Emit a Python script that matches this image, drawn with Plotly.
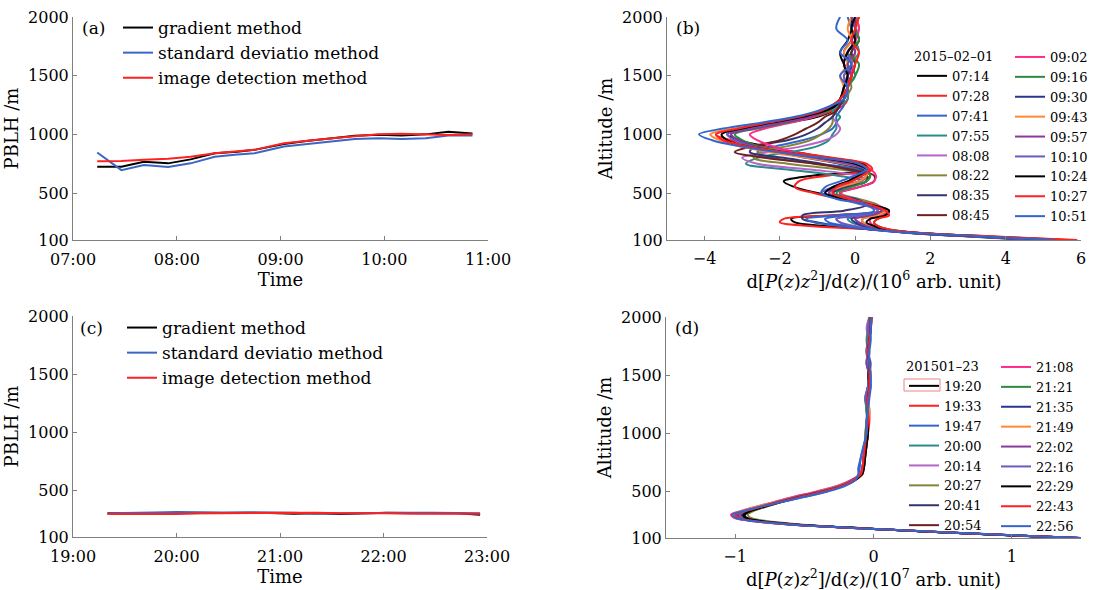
import plotly.graph_objects as go

FONT = "DejaVu Serif"

# ---------------- Panel (a) / (c): PBLH time series ----------------
TIME_A = ["07:14", "07:28", "07:41", "07:55", "08:08", "08:22", "08:35", "08:45", "09:02",
          "09:16", "09:30", "09:43", "09:57", "10:10", "10:24", "10:37", "10:51"]
GRAD_A = [724, 724, 767, 753, 787, 839, 851, 868, 917, 945, 966, 989, 997, 991, 1000, 1022, 1008]
STD_A = [845, 695, 738, 721, 753, 810, 828, 839, 897, 920, 937, 960, 966, 960, 966, 990, 990]
IMG_A = [770, 773, 784, 793, 810, 839, 856, 868, 925, 948, 966, 983, 1000, 1006, 997, 994, 1002]

TIME_C = ["19:20", "19:33", "19:47", "20:00", "20:14", "20:27", "20:41", "20:54", "21:08",
          "21:21", "21:35", "21:49", "22:02", "22:16", "22:29", "22:43", "22:56"]
GRAD_C = [305, 305, 308, 310, 306, 307, 308, 306, 299, 304, 297, 306, 309, 306, 305, 304, 292]
STD_C = [305, 310, 311, 314, 310, 311, 313, 312, 309, 303, 305, 309, 313, 309, 308, 307, 305]
IMG_C = [297, 296, 296, 297, 304, 305, 307, 307, 307, 308, 304, 306, 305, 299, 300, 300, 300]

METHODS = ["gradient method", "standard deviatio method", "image detection method"]
METHOD_COLORS = ["#000000", "#3a66c4", "#ff2020"]

# ---------------- Panel (b): profiles 2015-02-01 ----------------
ALT_B = [100, 130, 160, 190, 220, 250, 280, 310, 350, 400, 450, 500, 550, 600, 650, 700, 750,
         800, 850, 900, 950, 1000, 1050, 1100, 1150, 1200, 1250, 1300, 1400, 1500, 1600, 1700,
         1800, 1900, 2000]
TIMES_B = ["07:14", "07:28", "07:41", "07:55", "08:08", "08:22", "08:35", "08:45",
           "09:02", "09:16", "09:30", "09:43", "09:57", "10:10", "10:24", "10:27", "10:51"]
PROF_B = [
    [5.3, 3.4, 1.6, 0.5, -0.8, -1.6, -1.7, -0.5, 0.8, 0.5, -0.3, -1.0, -1.6, -1.9, -1.1, 0.35, 0.2, -0.7, -1.6, -2.4, -3.1, -3.4, -2.8, -1.8, -1.0, -0.6, -0.4, -0.3, -0.3, -0.1, -0.3, -0.4, -0.2, -0.1, -0.1],
    [5.6, 3.6, 1.7, 0.4, -1.2, -2.0, -1.9, -0.6, 0.8, 0.4, -0.4, -1.1, -1.6, -1.5, -0.7, 0.45, 0.3, -0.6, -1.6, -2.5, -3.3, -3.7, -3.1, -2.0, -1.1, -0.6, -0.3, -0.2, -0.2, -0.3, 0.0, -0.2, 0.1, 0.0, 0.1],
    [5.0, 3.2, 1.5, 0.6, -0.2, -0.7, -0.8, -0.2, 0.6, 0.4, -0.3, -0.8, -0.5, 0.1, 0.4, 0.1, -1.0, -2.2, -2.6, -2.1, -1.4, -0.9, -0.6, -0.5, -0.5, -0.4, -0.3, -0.4, -0.2, -0.1, -0.3, -0.2, 0.0, -0.1, -0.2],
    [4.8, 3.1, 1.5, 0.7, 0.2, -0.1, -0.2, 0.3, 0.7, 0.5, -0.2, -0.6, -0.2, 0.2, -0.5, -1.8, -2.9, -2.6, -1.7, -1.0, -0.7, -0.6, -0.5, -0.5, -0.4, -0.6, -0.4, -0.2, -0.2, 0.0, -0.1, 0.1, 0.0, -0.1, 0.0],
    [5.2, 3.3, 1.6, 0.6, 0.0, -0.4, -0.5, 0.1, 0.6, 0.5, -0.3, -0.7, -0.3, 0.3, 0.0, -1.2, -2.6, -3.0, -2.3, -1.4, -0.8, -0.5, -0.4, -0.5, -0.6, -0.5, -0.4, -0.3, -0.2, -0.2, 0.0, -0.1, 0.1, 0.0, -0.1],
    [4.6, 3.0, 1.4, 0.7, 0.3, 0.1, 0.0, 0.4, 0.8, 0.6, 0.1, -0.4, -0.4, 0.1, 0.4, -0.4, -1.8, -2.7, -2.5, -1.8, -1.2, -0.9, -0.7, -0.6, -0.6, -0.5, -0.4, -0.3, -0.1, -0.2, -0.1, 0.0, -0.1, 0.1, 0.0],
    [4.9, 3.2, 1.5, 0.4, -0.4, -1.0, -1.4, -1.4, -0.3, 0.3, 0.0, -0.6, -0.3, 0.3, 0.3, -0.2, -0.9, -1.9, -2.8, -2.6, -1.8, -1.3, -1.0, -0.8, -0.6, -0.5, -0.4, -0.3, -0.2, -0.1, -0.2, -0.1, 0.0, 0.0, -0.1],
    [5.1, 3.3, 1.6, 0.8, 0.4, 0.2, 0.2, 0.6, 0.8, 0.4, -0.2, -0.4, 0.1, 0.5, 0.5, -0.1, -1.1, -2.4, -3.2, -2.7, -2.0, -1.6, -1.3, -1.0, -0.8, -0.5, -0.4, -0.3, -0.2, -0.1, 0.0, -0.1, 0.1, 0.0, 0.0],
    [5.4, 3.4, 1.7, 0.9, 0.5, 0.4, 0.4, 0.7, 0.9, 0.5, -0.1, -0.4, 0.1, 0.5, 0.55, 0.4, -0.3, -1.0, -1.7, -2.2, -2.6, -2.8, -2.4, -1.7, -1.1, -0.7, -0.5, -0.3, -0.2, -0.1, -0.3, -0.2, 0.0, 0.1, 0.0],
    [5.0, 3.2, 1.6, 0.9, 0.6, 0.5, 0.6, 0.8, 0.9, 0.4, -0.2, -0.5, -0.1, 0.3, 0.4, 0.2, -0.4, -1.2, -2.0, -2.6, -3.0, -3.2, -2.6, -1.8, -1.2, -0.7, -0.5, -0.3, -0.2, 0.0, 0.1, -0.2, 0.1, 0.0, 0.1],
    [4.8, 3.1, 1.5, 0.6, 0.2, 0.0, -0.1, 0.4, 0.7, 0.3, -0.3, -0.6, -0.3, 0.1, 0.3, 0.2, -0.4, -1.3, -2.1, -2.7, -3.1, -3.3, -2.8, -2.0, -1.3, -0.8, -0.5, -0.3, -0.3, -0.2, -0.1, -0.3, -0.1, 0.0, -0.1],
    [5.7, 3.6, 1.7, 0.8, 0.4, 0.2, 0.2, 0.6, 0.8, 0.4, -0.4, -0.7, -0.4, 0.1, 0.3, 0.3, -0.3, -1.3, -2.3, -3.1, -3.6, -3.85, -3.2, -2.3, -1.5, -0.9, -0.6, -0.4, -0.3, -0.4, -0.2, -0.3, -0.1, -0.2, -0.1],
    [4.9, 3.2, 1.5, 0.7, 0.3, 0.1, 0.0, 0.4, 0.7, 0.3, -0.3, -0.7, -0.5, -0.1, 0.2, 0.3, -0.2, -1.1, -2.0, -2.7, -3.1, -3.3, -2.7, -1.9, -1.2, -0.8, -0.6, -0.4, -0.3, -0.1, -0.2, 0.0, -0.1, 0.0, -0.1],
    [5.2, 3.3, 1.6, 0.5, -0.1, -0.4, -0.5, 0.2, 0.6, 0.2, -0.4, -0.9, -0.6, -0.2, 0.1, 0.3, -0.1, -1.0, -2.0, -2.8, -3.2, -3.4, -2.9, -2.1, -1.4, -0.9, -0.6, -0.4, -0.2, -0.3, -0.1, -0.2, 0.0, -0.1, 0.0],
    [5.5, 3.5, 1.7, 0.8, 0.5, 0.3, 0.4, 0.8, 0.9, 0.4, -0.3, -0.8, -0.6, -0.2, 0.1, 0.3, 0.0, -0.9, -1.9, -2.9, -3.4, -3.55, -3.0, -2.2, -1.4, -0.8, -0.5, -0.4, -0.3, -0.2, -0.3, -0.2, 0.0, -0.1, 0.0],
    [5.9, 3.7, 1.8, 0.9, 0.6, 0.5, 0.6, 0.9, 0.8, 0.4, -0.2, -0.6, -0.5, -0.1, 0.2, 0.4, 0.1, -0.8, -1.9, -2.9, -3.5, -3.7, -3.1, -2.3, -1.5, -0.9, -0.6, -0.4, -0.2, -0.1, 0.0, 0.1, -0.1, 0.0, 0.1],
    [5.3, 3.4, 1.6, 0.4, -0.4, -1.1, -1.3, -0.4, 0.5, 0.3, -0.5, -0.9, -0.8, -0.4, 0.0, 0.3, 0.1, -0.9, -2.1, -3.1, -3.8, -4.15, -3.5, -2.5, -1.6, -1.0, -0.6, -0.3, -0.2, -0.4, -0.1, -0.4, -0.2, -0.5, -0.4],
]

# ---------------- Panel (d): profiles 2015-01-23 ----------------
ALT_D = [100, 125, 150, 175, 200, 225, 250, 275, 300, 325, 350, 400, 450, 500, 550, 600, 650,
         700, 800, 900, 1000, 1100, 1200, 1300, 1400, 1500, 1600, 1700, 1800, 1900, 2000]
TIMES_D = ["19:20", "19:33", "19:47", "20:00", "20:14", "20:27", "20:41", "20:54",
           "21:08", "21:21", "21:35", "21:49", "22:02", "22:16", "22:29", "22:43", "22:56"]
PROF_D = [
    [1.47, 0.93, 0.48, 0.04, -0.36, -0.64, -0.83, -0.92, -0.93, -0.89, -0.83, -0.69, -0.54, -0.37, -0.23, -0.14, -0.09, -0.07, -0.06, -0.05, -0.04, -0.04, -0.05, -0.04, -0.03, -0.04, -0.03, -0.05, -0.04, -0.03, -0.02],
    [1.49, 0.96, 0.50, 0.05, -0.37, -0.67, -0.87, -0.96, -0.98, -0.93, -0.86, -0.70, -0.53, -0.35, -0.21, -0.13, -0.08, -0.07, -0.06, -0.05, -0.04, -0.03, -0.03, -0.04, -0.03, -0.02, -0.03, -0.04, -0.03, -0.02, -0.01],
    [1.50, 0.97, 0.51, 0.06, -0.38, -0.69, -0.90, -1.00, -1.02, -0.96, -0.87, -0.70, -0.52, -0.34, -0.22, -0.14, -0.10, -0.10, -0.09, -0.07, -0.05, -0.05, -0.04, -0.04, -0.02, -0.03, -0.02, -0.04, -0.03, -0.03, -0.02],
    [1.48, 0.95, 0.49, 0.05, -0.37, -0.66, -0.86, -0.95, -0.97, -0.93, -0.87, -0.72, -0.56, -0.38, -0.24, -0.15, -0.09, -0.08, -0.07, -0.06, -0.05, -0.04, -0.05, -0.05, -0.04, -0.03, -0.04, -0.03, -0.04, -0.03, -0.02],
    [1.49, 0.95, 0.50, 0.05, -0.38, -0.68, -0.88, -0.97, -0.99, -0.95, -0.89, -0.74, -0.58, -0.40, -0.25, -0.15, -0.09, -0.08, -0.07, -0.06, -0.05, -0.05, -0.04, -0.06, -0.04, -0.03, -0.05, -0.04, -0.03, -0.05, -0.03],
    [1.47, 0.94, 0.49, 0.06, -0.34, -0.61, -0.80, -0.89, -0.91, -0.88, -0.83, -0.70, -0.56, -0.39, -0.25, -0.15, -0.09, -0.08, -0.07, -0.06, -0.05, -0.04, -0.04, -0.05, -0.03, -0.03, -0.04, -0.04, -0.03, -0.03, -0.02],
    [1.48, 0.95, 0.49, 0.05, -0.36, -0.65, -0.85, -0.94, -0.95, -0.92, -0.86, -0.72, -0.57, -0.39, -0.25, -0.15, -0.09, -0.08, -0.07, -0.06, -0.05, -0.04, -0.04, -0.04, -0.03, -0.04, -0.03, -0.04, -0.03, -0.02, -0.02],
    [1.48, 0.94, 0.49, 0.04, -0.37, -0.66, -0.86, -0.95, -0.96, -0.92, -0.86, -0.71, -0.55, -0.37, -0.23, -0.14, -0.09, -0.07, -0.07, -0.06, -0.05, -0.04, -0.04, -0.05, -0.03, -0.03, -0.04, -0.04, -0.03, -0.03, -0.02],
    [1.49, 0.96, 0.50, 0.05, -0.39, -0.70, -0.91, -1.01, -1.03, -0.98, -0.91, -0.75, -0.59, -0.41, -0.26, -0.16, -0.10, -0.08, -0.07, -0.06, -0.05, -0.04, -0.04, -0.05, -0.04, -0.03, -0.04, -0.04, -0.03, -0.03, -0.02],
    [1.48, 0.95, 0.49, 0.05, -0.37, -0.66, -0.86, -0.95, -0.97, -0.93, -0.87, -0.72, -0.56, -0.38, -0.24, -0.15, -0.09, -0.08, -0.07, -0.06, -0.06, -0.05, -0.05, -0.06, -0.04, -0.03, -0.05, -0.04, -0.05, -0.04, -0.03],
    [1.48, 0.95, 0.50, 0.05, -0.37, -0.67, -0.87, -0.96, -0.98, -0.94, -0.87, -0.72, -0.56, -0.38, -0.24, -0.15, -0.09, -0.08, -0.07, -0.06, -0.05, -0.04, -0.04, -0.05, -0.04, -0.03, -0.04, -0.04, -0.03, -0.03, -0.02],
    [1.50, 0.96, 0.50, 0.05, -0.38, -0.69, -0.89, -0.99, -1.01, -0.97, -0.90, -0.75, -0.58, -0.40, -0.25, -0.15, -0.09, -0.08, -0.07, -0.06, -0.05, -0.04, -0.03, -0.04, -0.03, -0.02, -0.03, -0.04, -0.03, -0.02, -0.01],
    [1.49, 0.95, 0.50, 0.05, -0.38, -0.68, -0.88, -0.97, -0.99, -0.95, -0.88, -0.73, -0.57, -0.39, -0.24, -0.15, -0.09, -0.08, -0.07, -0.06, -0.05, -0.05, -0.04, -0.05, -0.04, -0.03, -0.05, -0.04, -0.04, -0.03, -0.02],
    [1.48, 0.95, 0.49, 0.05, -0.37, -0.66, -0.86, -0.95, -0.97, -0.93, -0.86, -0.71, -0.55, -0.37, -0.23, -0.14, -0.09, -0.08, -0.07, -0.06, -0.05, -0.04, -0.04, -0.06, -0.04, -0.03, -0.04, -0.05, -0.04, -0.04, -0.02],
    [1.47, 0.94, 0.49, 0.05, -0.36, -0.65, -0.84, -0.93, -0.94, -0.90, -0.84, -0.70, -0.54, -0.36, -0.22, -0.13, -0.08, -0.07, -0.06, -0.05, -0.04, -0.04, -0.04, -0.04, -0.03, -0.03, -0.03, -0.04, -0.03, -0.02, -0.02],
    [1.49, 0.96, 0.50, 0.05, -0.38, -0.68, -0.89, -0.98, -1.00, -0.95, -0.87, -0.71, -0.54, -0.36, -0.22, -0.14, -0.09, -0.08, -0.07, -0.06, -0.05, -0.04, -0.04, -0.04, -0.03, -0.03, -0.03, -0.04, -0.03, -0.02, -0.02],
    [1.50, 0.97, 0.51, 0.06, -0.38, -0.69, -0.90, -1.00, -1.02, -0.96, -0.88, -0.70, -0.51, -0.33, -0.20, -0.13, -0.11, -0.11, -0.09, -0.07, -0.05, -0.05, -0.04, -0.03, -0.02, -0.02, -0.03, -0.03, -0.02, -0.02, -0.01],
]

PROFILE_COLORS = ["#000000", "#ff2020", "#3366cc", "#2a8c8a", "#b565c8", "#85853a", "#33336e",
                  "#6e2020", "#ff2a8a", "#2e8a40", "#2a3590", "#ff8833", "#8a3a9a", "#6a5cc0",
                  "#000000", "#ff2020", "#3366cc"]

# body margin is set to 0 (post_script), so figure pixels == page pixels
W, H = 1098, 590


def fx(x):
    return x / W


def fy(y):
    return 1 - y / H


def px(x0, x1):
    return [fx(x0), fx(x1)]


def py(ytop, ybot):
    return [fy(ybot), fy(ytop)]


fig = go.Figure()

# (a)
for name, vals, col in zip(METHODS, [GRAD_A, STD_A, IMG_A], METHOD_COLORS):
    fig.add_trace(go.Scatter(x=["2015-02-01 " + t for t in TIME_A], y=vals, mode="lines",
                             name=name, line=dict(color=col, width=2),
                             xaxis="x", yaxis="y", legend="legend"))
# (c)
for name, vals, col in zip(METHODS, [GRAD_C, STD_C, IMG_C], METHOD_COLORS):
    fig.add_trace(go.Scatter(x=["2015-01-23 " + t for t in TIME_C], y=vals, mode="lines",
                             name=name, line=dict(color=col, width=2),
                             xaxis="x3", yaxis="y3", legend="legend6"))
# (b)
for i, (t, prof) in enumerate(zip(TIMES_B, PROF_B)):
    fig.add_trace(go.Scatter(x=prof, y=ALT_B, mode="lines", name=t,
                             line=dict(color=PROFILE_COLORS[i], width=2, shape="spline", smoothing=1.0),
                             xaxis="x2", yaxis="y2",
                             legend="legend2" if i < 8 else "legend3"))
# (d)
for i, (t, prof) in enumerate(zip(TIMES_D, PROF_D)):
    fig.add_trace(go.Scatter(x=prof, y=ALT_D, mode="lines", name=t,
                             line=dict(color=PROFILE_COLORS[i], width=2, shape="spline", smoothing=1.0),
                             xaxis="x4", yaxis="y4",
                             legend="legend4" if i < 8 else "legend5"))

AXC = "#808080"


def axis(**kw):
    d = dict(showline=True, linecolor=AXC, linewidth=1, ticks="inside", ticklen=4,
             tickcolor=AXC, showgrid=False, zeroline=False, automargin=False,
             tickfont=dict(family=FONT, size=16, color="black"))
    d.update(kw)
    return d


yt = dict(tickvals=[100, 500, 1000, 1500, 2000], range=[100, 2000])
TITLE_FONT = dict(family=FONT, size=18, color="black")
XTITLE_B = "d[<i>P</i>(<i>z</i>)<i>z</i><sup>2</sup>]/d(<i>z</i>)/(10<sup>6</sup> arb. unit)"
XTITLE_D = "d[<i>P</i>(<i>z</i>)<i>z</i><sup>2</sup>]/d(<i>z</i>)/(10<sup>7</sup> arb. unit)"

fig.update_layout(
    width=W, height=H, margin=dict(l=0, r=0, t=0, b=0, autoexpand=False),
    paper_bgcolor="white", plot_bgcolor="white",
    font=dict(family=FONT, color="black"),
    xaxis=axis(domain=px(73, 488), anchor="y", type="date", ticklabelstandoff=5,
               range=["2015-02-01 07:00", "2015-02-01 11:00"], dtick=3600000, tickformat="%H:%M",
               title=dict(text="Time", font=TITLE_FONT, standoff=2)),
    yaxis=axis(domain=py(17, 240), anchor="x", **yt,
               title=dict(text="PBLH /m", font=TITLE_FONT, standoff=4)),
    xaxis2=axis(domain=px(667, 1081), anchor="y2", range=[-5, 6], tickvals=[-4, -2, 0, 2, 4, 6],
                ticktext=["\u22124", "\u22122", "0", "2", "4", "6"], ticklabelstandoff=4,
                title=dict(text=XTITLE_B, font=TITLE_FONT, standoff=0)),
    yaxis2=axis(domain=py(17, 240), anchor="x2", **yt,
                title=dict(text="Altitude /m", font=TITLE_FONT, standoff=4)),
    xaxis3=axis(domain=px(73, 487), anchor="y3", type="date", ticklabelstandoff=5,
                range=["2015-01-23 19:00", "2015-01-23 23:00"], dtick=3600000, tickformat="%H:%M",
                title=dict(text="Time", font=TITLE_FONT, standoff=2)),
    yaxis3=axis(domain=py(316, 537), anchor="x3", **yt,
                title=dict(text="PBLH /m", font=TITLE_FONT, standoff=4)),
    xaxis4=axis(domain=px(666, 1081), anchor="y4", range=[-1.5, 1.5], tickvals=[-1, 0, 1],
                ticktext=["\u22121", "0", "1"], ticklabelstandoff=4,
                title=dict(text=XTITLE_D, font=TITLE_FONT, standoff=0)),
    yaxis4=axis(domain=py(317, 538), anchor="x4", **yt,
                title=dict(text="Altitude /m", font=TITLE_FONT, standoff=4)),
)

LEG_BIG = dict(font=dict(family=FONT, size=17, color="black"), bgcolor="rgba(0,0,0,0)",
               xanchor="left", yanchor="top", traceorder="normal")
LEG_SMALL = dict(font=dict(family=FONT, size=13, color="black"), bgcolor="rgba(0,0,0,0)",
                 xanchor="left", yanchor="top", traceorder="normal")

fig.update_layout(
    legend=dict(LEG_BIG, x=fx(118), y=fy(10)),
    legend6=dict(LEG_BIG, x=fx(122), y=fy(310)),
    legend2=dict(LEG_SMALL, x=fx(912), y=fy(44),
                 title=dict(text="2015\u201302\u201301", font=dict(family=FONT, size=13))),
    legend3=dict(LEG_SMALL, x=fx(1010), y=fy(42)),
    legend4=dict(LEG_SMALL, x=fx(904), y=fy(354),
                 title=dict(text="201501\u201323", font=dict(family=FONT, size=13))),
    legend5=dict(LEG_SMALL, x=fx(996), y=fy(352)),
)

# thin light-red frame around the 19:20 legend swatch, as in the original
fig.add_shape(type="rect", xref="paper", yref="paper", x0=fx(904), x1=fx(940),
              y0=fy(391), y1=fy(379), line=dict(color="#f08080", width=1))

for label, xx, yy in [("(a)", 93, 28), ("(b)", 688, 28), ("(c)", 91, 328), ("(d)", 687, 328)]:
    fig.add_annotation(text=label, x=fx(xx), y=fy(yy), xref="paper", yref="paper",
                       xanchor="center", yanchor="middle",
                       showarrow=False, font=dict(family=FONT, size=17, color="black"))

fig.write_html("out.html", config={"displayModeBar": False},
               post_script="document.body.style.margin='0px';")
